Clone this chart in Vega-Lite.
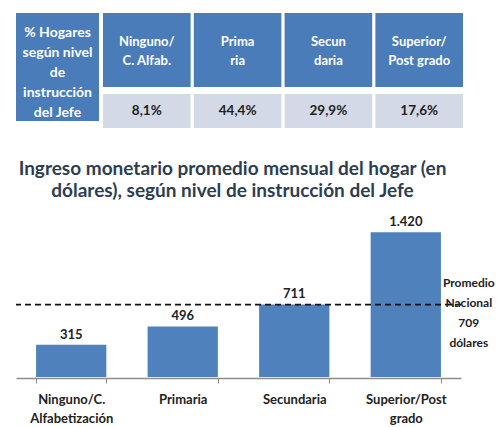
{
  "$schema": "https://vega.github.io/schema/vega-lite/v6.json",
  "padding": {"left": 10, "top": 13, "right": 0, "bottom": 0},
  "config": {
    "view": {"stroke": null},
    "font": "Lato",
    "locale": {"number": {"decimal": ",", "thousands": ".", "grouping": [3], "currency": ["$", ""]}}
  },
  "datasets": {
    "tabla": [
      {"nivel": "Ninguno/C. Alfab.", "encabezado": "Ninguno/\nC. Alfab.", "hogares": "8,1%"},
      {"nivel": "Primaria", "encabezado": "Prima\nria", "hogares": "44,4%"},
      {"nivel": "Secundaria", "encabezado": "Secun\ndaria", "hogares": "29,9%"},
      {"nivel": "Superior/Post grado", "encabezado": "Superior/\nPost grado", "hogares": "17,6%"}
    ],
    "ingreso": [
      {"nivel": "Ninguno/C. Alfabetización", "ingreso": 315},
      {"nivel": "Primaria", "ingreso": 496},
      {"nivel": "Secundaria", "ingreso": 711},
      {"nivel": "Superior/Post grado", "ingreso": 1420}
    ],
    "promedio": [
      {"promedio": 709, "nota": "Promedio\nNacional\n709\ndólares"}
    ]
  },
  "spacing": 32,
  "vconcat": [
    {
      "spacing": 4,
      "hconcat": [
        {
          "width": 83,
          "height": 108,
          "data": {"values": [{"col": "rotulo", "texto": "% Hogares\nsegún nivel\nde\ninstrucción\ndel Jefe"}]},
          "layer": [
            {
              "mark": {"type": "rect", "color": "#4a7cba"},
              "encoding": {
                "x": {"field": "col", "type": "nominal", "axis": null, "scale": {"paddingInner": 0, "paddingOuter": 0}}
              }
            },
            {
              "mark": {"type": "text", "color": "white", "fontWeight": "bold", "fontSize": 14, "lineBreak": "\n", "lineHeight": 20, "dy": -34},
              "encoding": {
                "x": {"field": "col", "type": "nominal", "axis": null},
                "text": {"field": "texto", "type": "nominal"}
              }
            }
          ]
        },
        {
          "spacing": 7,
          "vconcat": [
            {
              "width": 360,
              "height": 74,
              "data": {"name": "tabla"},
              "layer": [
                {
                  "mark": {"type": "rect", "color": "#4a7cba"},
                  "encoding": {
                    "x": {"field": "nivel", "type": "nominal", "sort": null, "axis": null, "scale": {"paddingInner": 0.035, "paddingOuter": 0}}
                  }
                },
                {
                  "mark": {"type": "text", "color": "white", "fontWeight": "bold", "fontSize": 13, "lineBreak": "\n", "lineHeight": 19, "dy": -8.5},
                  "encoding": {
                    "x": {"field": "nivel", "type": "nominal", "sort": null, "axis": null},
                    "text": {"field": "encabezado", "type": "nominal"}
                  }
                }
              ]
            },
            {
              "width": 360,
              "height": 34,
              "data": {"name": "tabla"},
              "layer": [
                {
                  "mark": {"type": "rect", "color": "#d3d9e6"},
                  "encoding": {
                    "x": {"field": "nivel", "type": "nominal", "sort": null, "axis": null, "scale": {"paddingInner": 0.035, "paddingOuter": 0}}
                  }
                },
                {
                  "mark": {"type": "text", "color": "#222222", "fontWeight": "bold", "fontSize": 13.5},
                  "encoding": {
                    "x": {"field": "nivel", "type": "nominal", "sort": null, "axis": null},
                    "text": {"field": "hogares", "type": "nominal"}
                  }
                }
              ]
            }
          ]
        }
      ]
    },
    {
      "width": 445,
      "height": 153,
      "title": {
        "text": ["Ingreso monetario promedio mensual del hogar (en", "dólares), según nivel de instrucción del Jefe"],
        "fontSize": 19,
        "fontWeight": "bold",
        "color": "#2c3e50",
        "lineHeight": 22,
        "anchor": "middle",
        "offset": 15,
        "dx": -6
      },
      "layer": [
        {
          "data": {"name": "ingreso"},
          "mark": {"type": "bar", "color": "#4f81bd"},
          "encoding": {
            "x": {
              "field": "nivel", "type": "nominal", "sort": null,
              "scale": {"paddingInner": 0.37, "paddingOuter": 0.18},
              "axis": {
                "title": null, "labelAngle": 0, "labelFontSize": 13, "labelFontWeight": "bold",
                "labelColor": "#222222", "labelPadding": 10, "labelLineHeight": 19,
                "tickBand": "extent", "tickSize": 5, "domainColor": "#8c8c8c", "domainWidth": 1.5,
                "tickColor": "#8c8c8c", "offset": 1,
                "labelExpr": "datum.label == 'Ninguno/C. Alfabetización' ? ['Ninguno/C.', 'Alfabetización'] : datum.label == 'Superior/Post grado' ? ['Superior/Post', 'grado'] : datum.label"
              }
            },
            "y": {
              "field": "ingreso", "type": "quantitative",
              "scale": {"domain": [0, 1500], "nice": false},
              "axis": {"title": null, "labels": false, "domain": false, "grid": false, "values": [0], "tickColor": "white", "tickSize": 5}
            }
          }
        },
        {
          "data": {"name": "ingreso"},
          "mark": {"type": "text", "baseline": "bottom", "dy": -3, "fontSize": 13, "fontWeight": "bold", "color": "#222222"},
          "encoding": {
            "x": {"field": "nivel", "type": "nominal", "sort": null},
            "y": {"field": "ingreso", "type": "quantitative"},
            "text": {"field": "ingreso", "type": "quantitative", "format": ",d"}
          }
        },
        {
          "data": {"name": "promedio"},
          "mark": {"type": "rule", "color": "#111111", "strokeWidth": 1.8, "strokeDash": [6, 4]},
          "encoding": {
            "y": {"field": "promedio", "type": "quantitative"}
          }
        },
        {
          "data": {"name": "promedio"},
          "mark": {"type": "text", "fontSize": 12, "fontWeight": "bold", "color": "#222222", "lineBreak": "\n", "lineHeight": 20, "dx": 63, "dy": -22},
          "encoding": {
            "x": {"datum": "Superior/Post grado"},
            "y": {"field": "promedio", "type": "quantitative"},
            "text": {"field": "nota", "type": "nominal"}
          }
        }
      ]
    }
  ]
}
